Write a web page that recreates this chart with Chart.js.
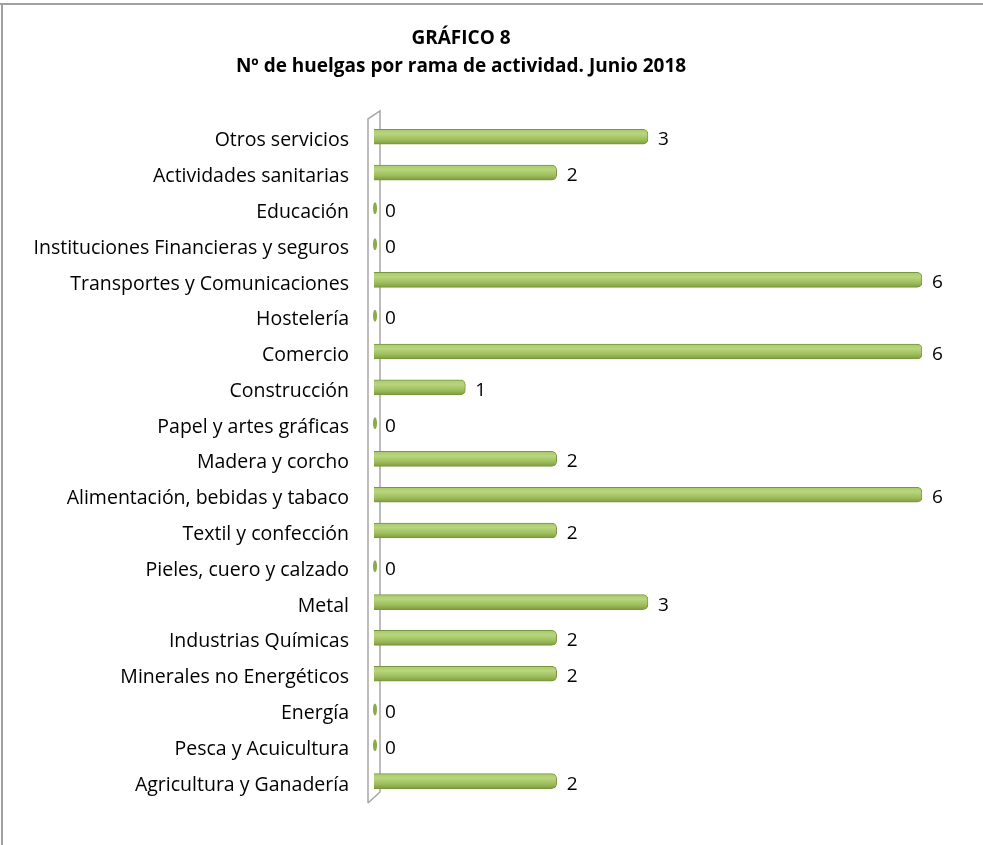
<!DOCTYPE html>
<html>
<head>
<meta charset="utf-8">
<script src="https://cdn.jsdelivr.net/npm/chart.js@4.4.0/dist/chart.umd.min.js"></script>
<style>
  body { margin: 0; background: #ffffff; }
  #wrap { width: 983px; height: 845px; position: relative; }
</style>
</head>
<body>
<div id="wrap"><canvas id="huelgasChart" width="983" height="845"></canvas></div>
<script>
const ramas = [
    'Otros servicios',
    'Actividades sanitarias',
    'Educación',
    'Instituciones Financieras y seguros',
    'Transportes y Comunicaciones',
    'Hostelería',
    'Comercio',
    'Construcción',
    'Papel y artes gráficas',
    'Madera y corcho',
    'Alimentación, bebidas y tabaco',
    'Textil y confección',
    'Pieles, cuero y calzado',
    'Metal',
    'Industrias Químicas',
    'Minerales no Energéticos',
    'Energía',
    'Pesca y Acuicultura',
    'Agricultura y Ganadería'
];
const huelgas = [3, 2, 0, 0, 6, 0, 6, 1, 0, 2, 6, 2, 0, 3, 2, 2, 0, 0, 2];
const tituloLineas = ['GRÁFICO 8', 'Nº de huelgas por rama de actividad. Junio 2018'];

const fuente = '"Open Sans", Lato, sans-serif';

// marco gris arriba y a la izquierda + pared 3D del eje
const fondoPlugin = {
    id: 'fondo',
    beforeDraw: (chart) => {
        const { ctx } = chart;
        ctx.save();
        ctx.fillStyle = '#ffffff';
        ctx.fillRect(0, 0, chart.width, chart.height);
        ctx.fillStyle = '#a0a0a0';
        ctx.fillRect(0, 3, chart.width, 2);
        ctx.fillRect(1, 3, 2, chart.height - 3);
        ctx.restore();
    },
    beforeDatasetsDraw: (chart) => {
        const { ctx, chartArea } = chart;
        const l = chartArea.left - 6;
        const r = chartArea.left + 6;
        ctx.save();
        ctx.strokeStyle = '#a6a6a6';
        ctx.lineWidth = 1.5;
        ctx.beginPath();
        ctx.moveTo(l, chartArea.bottom + 4);
        ctx.lineTo(l, chartArea.top);
        ctx.lineTo(r, chartArea.top - 8);
        ctx.lineTo(r, chartArea.bottom - 7);
        ctx.lineTo(l, chartArea.bottom + 4);
        ctx.stroke();
        ctx.restore();
    }
};

// valores y tapas de las barras en cero
const etiquetasPlugin = {
    id: 'etiquetas',
    afterDatasetsDraw: (chart) => {
        const { ctx } = chart;
        const meta = chart.getDatasetMeta(0);
        ctx.save();
        ctx.font = '19px ' + fuente;
        ctx.textBaseline = 'middle';
        ctx.textAlign = 'left';
        meta.data.forEach((bar, i) => {
            if (huelgas[i] === 0) {
                ctx.fillStyle = '#8aab48';
                ctx.beginPath();
                ctx.ellipse(bar.x + 1, bar.y, 2, 6, 0, 0, Math.PI * 2);
                ctx.fill();
            }
            ctx.fillStyle = '#000000';
            ctx.fillText(String(huelgas[i]), bar.x + (huelgas[i] === 0 ? 11 : 10), bar.y + 3);
        });
        ctx.restore();
    }
};

function colorCilindro(c) {
    const chart = c.chart;
    if (!chart.chartArea || !chart.scales.y) return '#9bbb59';
    const yc = chart.scales.y.getPixelForValue(c.dataIndex);
    const g = chart.ctx.createLinearGradient(0, yc - 7.5, 0, yc + 7.5);
    g.addColorStop(0, '#a9c96a');
    g.addColorStop(0.3, '#b8d67e');
    g.addColorStop(0.7, '#9dbd5b');
    g.addColorStop(1, '#7d9b40');
    return g;
}

const ctx = document.getElementById('huelgasChart').getContext('2d');
const huelgasChart = new Chart(ctx, {
    type: 'bar',
    data: {
        labels: ramas,
        datasets: [{
            data: huelgas,
            backgroundColor: colorCilindro,
            borderColor: '#7a9640',
            borderWidth: 1,
            borderRadius: 5,
            borderSkipped: 'start',
            barThickness: 15
        }]
    },
    options: {
        indexAxis: 'y',
        responsive: false,
        animation: false,
        layout: { padding: { left: 0, right: 61, top: 10, bottom: 46 } },
        plugins: {
            legend: { display: false },
            tooltip: { enabled: false },
            title: {
                display: true,
                text: tituloLineas,
                color: '#000000',
                font: { family: fuente, size: 19, weight: 'bold', lineHeight: 1.47 },
                padding: { top: 15, bottom: 38 }
            }
        },
        scales: {
            x: {
                display: false,
                min: 0,
                max: 6
            },
            y: {
                grid: { display: false, drawTicks: false },
                border: { display: false },
                ticks: {
                    color: '#000000',
                    padding: 25,
                    labelOffset: 4,
                    font: { family: fuente, size: 19.5 },
                    autoSkip: false
                },
                afterFit: (scale) => { scale.width = 374; }
            }
        }
    },
    plugins: [fondoPlugin, etiquetasPlugin]
});
</script>
</body>
</html>
